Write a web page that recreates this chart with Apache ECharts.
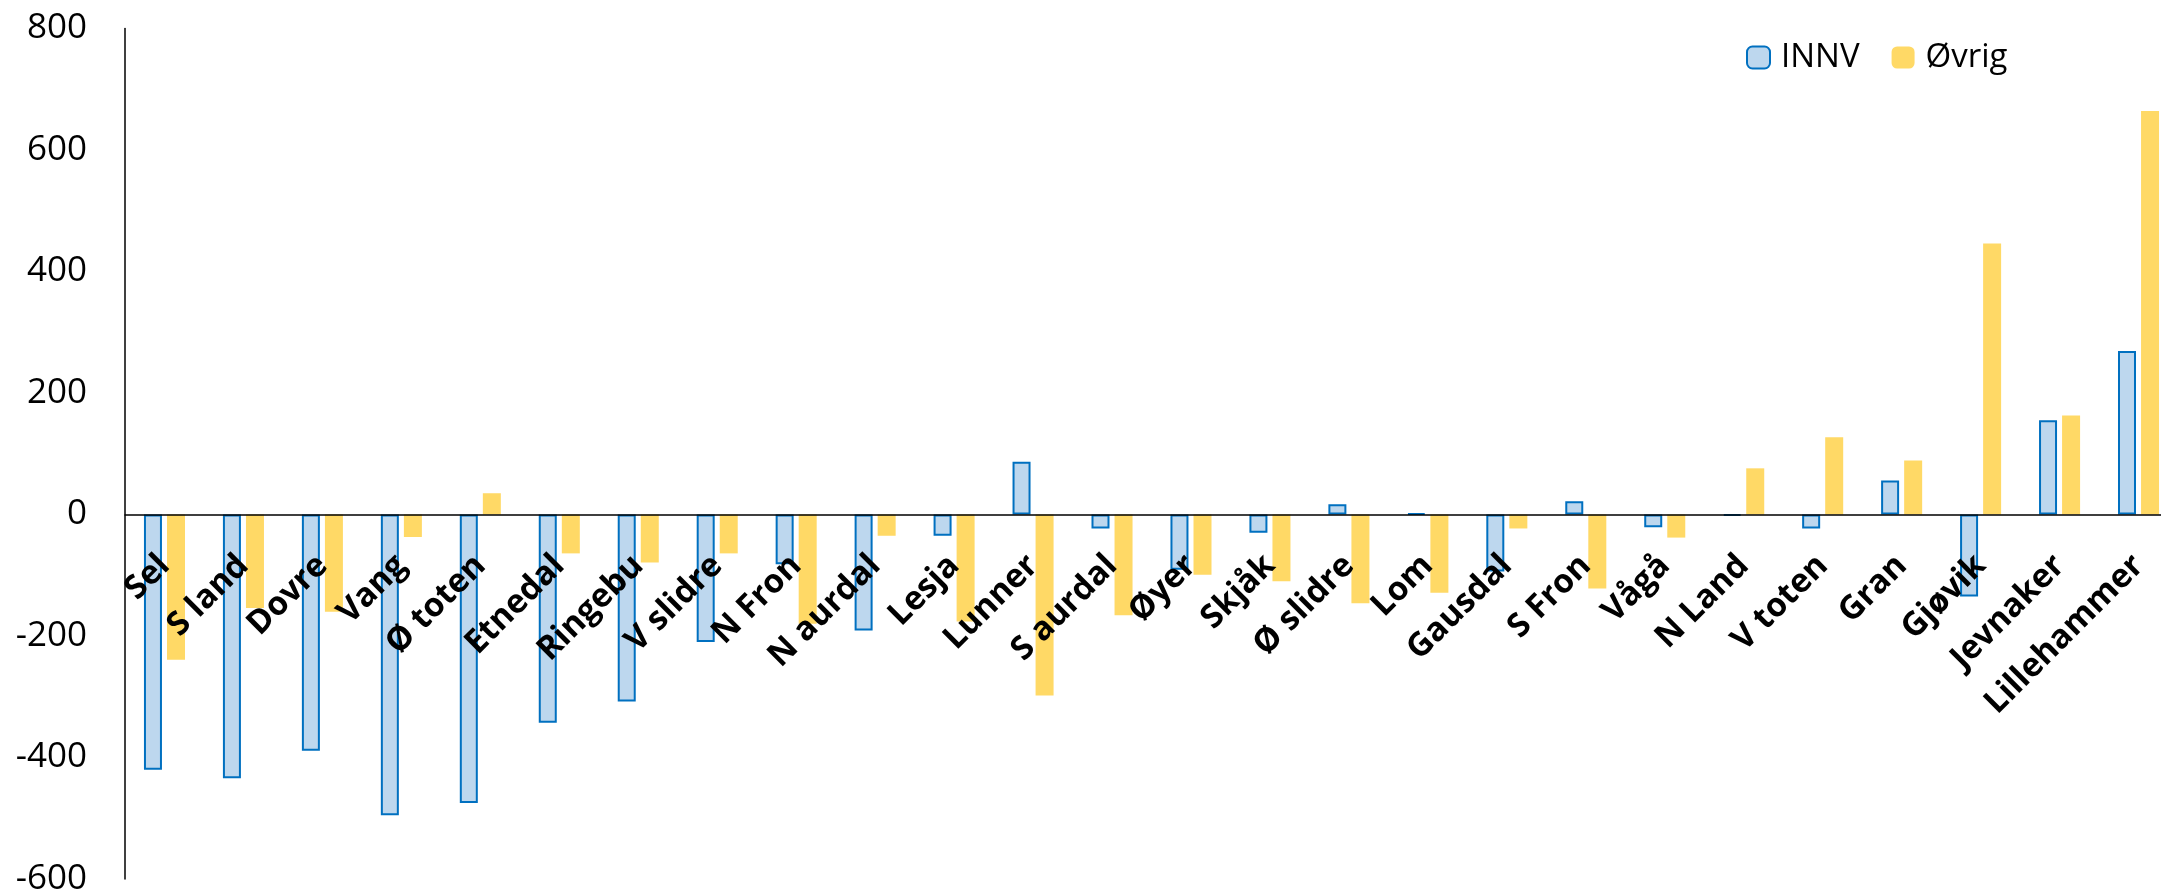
<!DOCTYPE html>
<html><head><meta charset="utf-8">
<script src="https://cdn.jsdelivr.net/npm/echarts@6/dist/echarts.min.js"></script>
<style>html,body{margin:0;padding:0;background:#fff}#c{width:2161px;height:895px}</style>
</head><body><div id="c"></div>
<script>
const categories = ['Sel','S land','Dovre','Vang','Ø toten','Etnedal','Ringebu','V slidre','N Fron','N aurdal','Lesja','Lunner','S aurdal','Øyer','Skjåk','Ø slidre','Lom','Gausdal','S Fron','Vågå','N Land','V toten','Gran','Gjøvik','Jevnaker','Lillehammer'];
const innv = [-420,-434,-389,-495,-475,-343,-308,-210,-82,-191,-35,87,-23,-91,-30,17,2,-94,22,-21,-2,-23,56,-135,155,269];
const ovrig = [-239,-154,-160,-37,35,-64,-79,-64,-180,-35,-176,-298,-166,-99,-110,-146,-129,-23,-122,-38,76,127,89,446,163,664];
const yTicks = {min:-600, max:800, interval:200};

const chart = echarts.init(document.getElementById('c'));
chart.setOption({
  animation:false,
  textStyle:{fontFamily:'Open Sans'},
  grid:{left:125, top:28.5, bottom:16, right:-17, containLabel:false, outerBoundsMode:'none'},
  legend:{
    left:1746, top:41, padding:0, itemWidth:23, itemHeight:22, itemGap:32,
    textStyle:{fontSize:33, color:'#000', fontFamily:'Open Sans', padding:[0,0,0,6]},
    data:['INNV','Øvrig']
  },
  xAxis:{
    type:'category', data:categories, z:10, offset:-364.5,
    axisLine:{show:true, onZero:true, lineStyle:{color:'#000', width:1.5}},
    axisTick:{show:false},
    axisLabel:{interval:0, rotate:45, fontSize:33, fontWeight:'bold', color:'#000', margin:46, fontFamily:'Open Sans'}
  },
  yAxis:{
    type:'value', min:yTicks.min, max:yTicks.max, interval:yTicks.interval,
    axisLine:{show:true, lineStyle:{color:'#000', width:1.5}},
    axisTick:{show:false}, splitLine:{show:false},
    axisLabel:{fontSize:35, color:'#000', margin:38, fontFamily:'Open Sans'}
  },
  series:[
    {name:'INNV', type:'bar', data:innv, barWidth:18, barGap:'28%',
     itemStyle:{color:'#BDD7EE', borderColor:'#0070C0', borderWidth:2}},
    {name:'Øvrig', type:'bar', data:ovrig, barWidth:18,
     itemStyle:{color:'#FFD966'}}
  ]
});
</script></body></html>
